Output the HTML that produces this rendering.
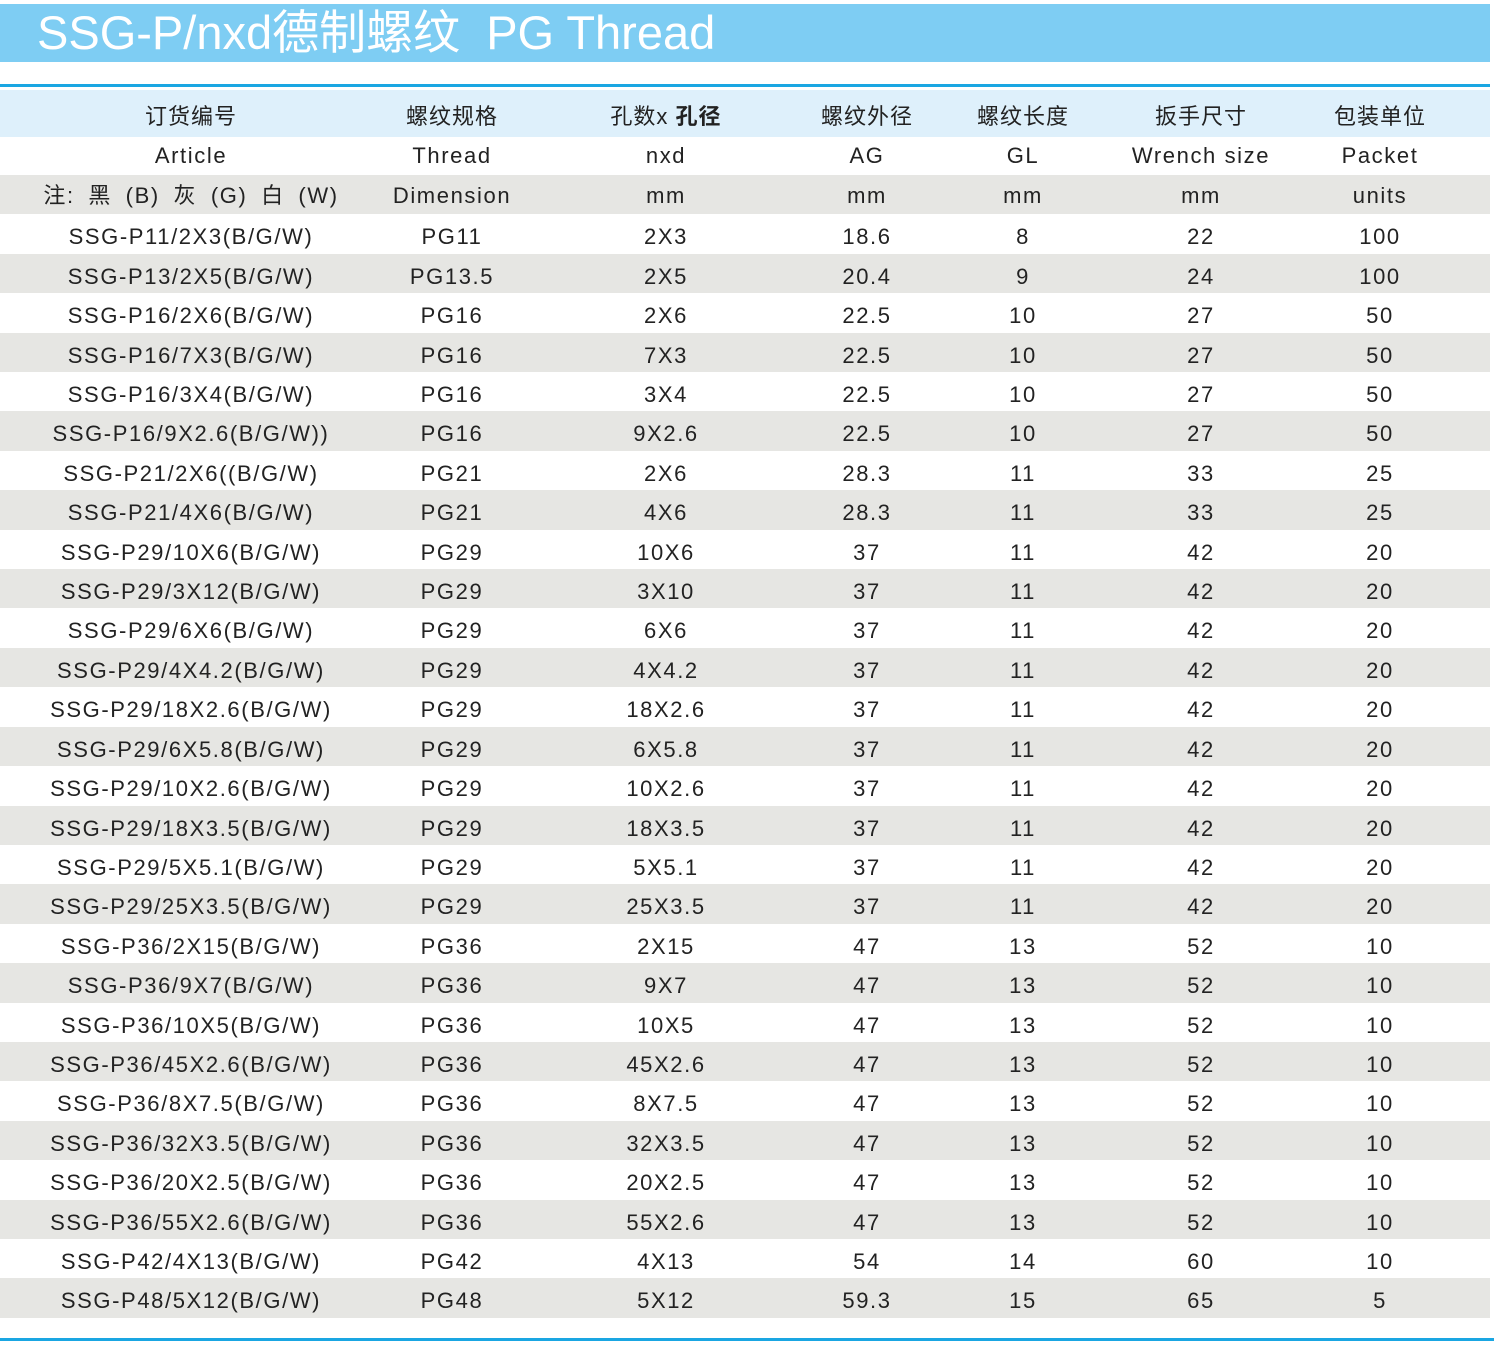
<!DOCTYPE html>
<html><head><meta charset="utf-8"><style>
body{margin:0;width:1500px;height:1363px;background:#fff;position:relative;overflow:hidden;font-family:"Liberation Sans","Noto Sans CJK SC",sans-serif;color:#222}
.title{position:absolute;left:0;top:4px;width:1490px;height:58px;background:#7ecdf3;color:#fff;font-size:47px;line-height:58px;padding-left:37px;box-sizing:border-box;letter-spacing:0}
.line{position:absolute;left:0;width:1490px;height:3px;background:#1aa6e2}
table{position:absolute;left:0;top:90px;width:1490px;border-collapse:collapse;table-layout:fixed}
td{padding:6px 0 0 0;text-align:center;font-size:22px;letter-spacing:1.6px;height:39.4px;line-height:33.4px;white-space:nowrap;box-sizing:border-box}
tr.h td{height:47px;line-height:41px;padding-top:6px;background:#def0fb;letter-spacing:1px}
tr.a td{height:38px;line-height:36px;padding-top:0}
tr.d td{padding-top:2px;line-height:37.4px}
tr.g td{background:#e6e6e3}
td:last-child{padding-right:10px}
</style></head><body>
<div class="title">SSG-P/nxd德制螺纹&nbsp; PG Thread</div>
<div class="line" style="top:84px"></div>
<table>
<colgroup><col style="width:382px"><col style="width:140px"><col style="width:288px"><col style="width:114px"><col style="width:198px"><col style="width:158px"><col style="width:210px"></colgroup>
<tr class="h"><td>订货编号</td><td>螺纹规格</td><td>孔数x <b>孔径</b></td><td>螺纹外径</td><td>螺纹长度</td><td>扳手尺寸</td><td>包装单位</td></tr>
<tr class="a"><td>Article</td><td>Thread</td><td>nxd</td><td>AG</td><td>GL</td><td>Wrench size</td><td>Packet</td></tr>
<tr class="g d"><td style="word-spacing:6px">注: 黑 (B) 灰 (G) 白 (W)</td><td>Dimension</td><td>mm</td><td>mm</td><td>mm</td><td>mm</td><td>units</td></tr>
<tr><td>SSG-P11/2X3(B/G/W)</td><td>PG11</td><td>2X3</td><td>18.6</td><td>8</td><td>22</td><td>100</td></tr>
<tr class="g"><td>SSG-P13/2X5(B/G/W)</td><td>PG13.5</td><td>2X5</td><td>20.4</td><td>9</td><td>24</td><td>100</td></tr>
<tr><td>SSG-P16/2X6(B/G/W)</td><td>PG16</td><td>2X6</td><td>22.5</td><td>10</td><td>27</td><td>50</td></tr>
<tr class="g"><td>SSG-P16/7X3(B/G/W)</td><td>PG16</td><td>7X3</td><td>22.5</td><td>10</td><td>27</td><td>50</td></tr>
<tr><td>SSG-P16/3X4(B/G/W)</td><td>PG16</td><td>3X4</td><td>22.5</td><td>10</td><td>27</td><td>50</td></tr>
<tr class="g"><td>SSG-P16/9X2.6(B/G/W))</td><td>PG16</td><td>9X2.6</td><td>22.5</td><td>10</td><td>27</td><td>50</td></tr>
<tr><td>SSG-P21/2X6((B/G/W)</td><td>PG21</td><td>2X6</td><td>28.3</td><td>11</td><td>33</td><td>25</td></tr>
<tr class="g"><td>SSG-P21/4X6(B/G/W)</td><td>PG21</td><td>4X6</td><td>28.3</td><td>11</td><td>33</td><td>25</td></tr>
<tr><td>SSG-P29/10X6(B/G/W)</td><td>PG29</td><td>10X6</td><td>37</td><td>11</td><td>42</td><td>20</td></tr>
<tr class="g"><td>SSG-P29/3X12(B/G/W)</td><td>PG29</td><td>3X10</td><td>37</td><td>11</td><td>42</td><td>20</td></tr>
<tr><td>SSG-P29/6X6(B/G/W)</td><td>PG29</td><td>6X6</td><td>37</td><td>11</td><td>42</td><td>20</td></tr>
<tr class="g"><td>SSG-P29/4X4.2(B/G/W)</td><td>PG29</td><td>4X4.2</td><td>37</td><td>11</td><td>42</td><td>20</td></tr>
<tr><td>SSG-P29/18X2.6(B/G/W)</td><td>PG29</td><td>18X2.6</td><td>37</td><td>11</td><td>42</td><td>20</td></tr>
<tr class="g"><td>SSG-P29/6X5.8(B/G/W)</td><td>PG29</td><td>6X5.8</td><td>37</td><td>11</td><td>42</td><td>20</td></tr>
<tr><td>SSG-P29/10X2.6(B/G/W)</td><td>PG29</td><td>10X2.6</td><td>37</td><td>11</td><td>42</td><td>20</td></tr>
<tr class="g"><td>SSG-P29/18X3.5(B/G/W)</td><td>PG29</td><td>18X3.5</td><td>37</td><td>11</td><td>42</td><td>20</td></tr>
<tr><td>SSG-P29/5X5.1(B/G/W)</td><td>PG29</td><td>5X5.1</td><td>37</td><td>11</td><td>42</td><td>20</td></tr>
<tr class="g"><td>SSG-P29/25X3.5(B/G/W)</td><td>PG29</td><td>25X3.5</td><td>37</td><td>11</td><td>42</td><td>20</td></tr>
<tr><td>SSG-P36/2X15(B/G/W)</td><td>PG36</td><td>2X15</td><td>47</td><td>13</td><td>52</td><td>10</td></tr>
<tr class="g"><td>SSG-P36/9X7(B/G/W)</td><td>PG36</td><td>9X7</td><td>47</td><td>13</td><td>52</td><td>10</td></tr>
<tr><td>SSG-P36/10X5(B/G/W)</td><td>PG36</td><td>10X5</td><td>47</td><td>13</td><td>52</td><td>10</td></tr>
<tr class="g"><td>SSG-P36/45X2.6(B/G/W)</td><td>PG36</td><td>45X2.6</td><td>47</td><td>13</td><td>52</td><td>10</td></tr>
<tr><td>SSG-P36/8X7.5(B/G/W)</td><td>PG36</td><td>8X7.5</td><td>47</td><td>13</td><td>52</td><td>10</td></tr>
<tr class="g"><td>SSG-P36/32X3.5(B/G/W)</td><td>PG36</td><td>32X3.5</td><td>47</td><td>13</td><td>52</td><td>10</td></tr>
<tr><td>SSG-P36/20X2.5(B/G/W)</td><td>PG36</td><td>20X2.5</td><td>47</td><td>13</td><td>52</td><td>10</td></tr>
<tr class="g"><td>SSG-P36/55X2.6(B/G/W)</td><td>PG36</td><td>55X2.6</td><td>47</td><td>13</td><td>52</td><td>10</td></tr>
<tr><td>SSG-P42/4X13(B/G/W)</td><td>PG42</td><td>4X13</td><td>54</td><td>14</td><td>60</td><td>10</td></tr>
<tr class="g"><td>SSG-P48/5X12(B/G/W)</td><td>PG48</td><td>5X12</td><td>59.3</td><td>15</td><td>65</td><td>5</td></tr>
</table>
<div class="line" style="top:1338px;width:1494px"></div>
</body></html>
